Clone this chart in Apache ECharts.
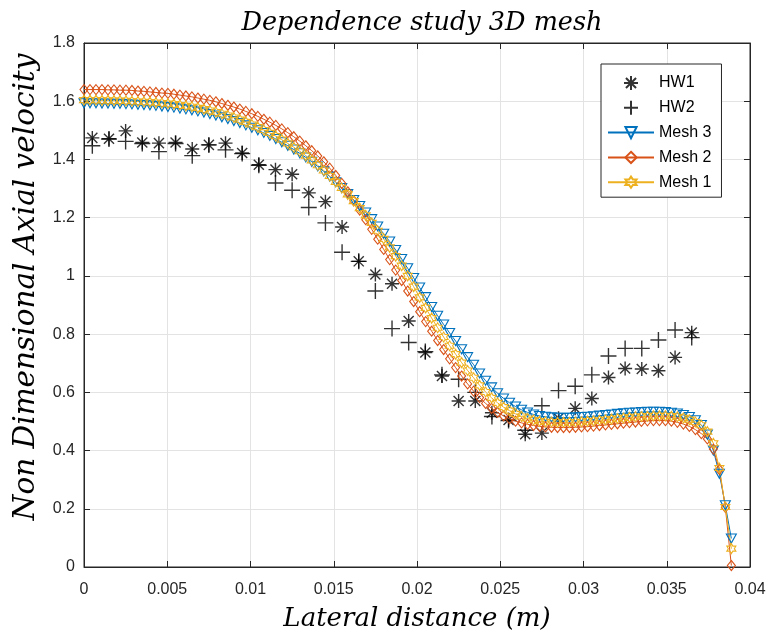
<!DOCTYPE html>
<html>
<head>
<meta charset="utf-8">
<script src="https://cdn.jsdelivr.net/npm/echarts@6/dist/echarts.min.js"></script>
<style>html,body{margin:0;padding:0;background:#fff}#c{width:770px;height:637px}</style>
</head>
<body>
<div id="c"></div>
<script>
const xMesh = [
0,0.00036,0.00072,0.00108,0.00144,0.0018,0.00216,0.00252,0.00288,0.00324,
0.0036,0.00396,0.00432,0.00468,0.00504,0.0054,0.00576,0.00612,0.00648,0.00684,
0.0072,0.00756,0.00792,0.00828,0.00864,0.009,0.00936,0.00972,0.01008,0.01044,
0.0108,0.01116,0.01152,0.01188,0.01224,0.0126,0.01296,0.01332,0.01368,0.01404,
0.0144,0.01476,0.01512,0.01548,0.01584,0.0162,0.01656,0.01692,0.01728,0.01764,
0.018,0.01836,0.01872,0.01908,0.01944,0.0198,0.02016,0.02052,0.02088,0.02124,
0.0216,0.02196,0.02232,0.02268,0.02304,0.0234,0.02376,0.02412,0.02448,0.02484,
0.0252,0.02556,0.02592,0.02628,0.02664,0.027,0.02736,0.02772,0.02808,0.02844,
0.0288,0.02916,0.02952,0.02988,0.03024,0.0306,0.03096,0.03132,0.03168,0.03204,
0.0324,0.03276,0.03312,0.03348,0.03384,0.0342,0.03456,0.03492,0.03528,0.03564,
0.036,0.03636,0.03672,0.03708,0.03744,0.0378,0.03816,0.03852,0.03888];

const mesh3 = [
1.593,1.593,1.593,1.592,1.592,1.591,1.591,1.590,1.589,1.588,
1.587,1.586,1.584,1.582,1.580,1.578,1.575,1.572,1.569,1.565,
1.561,1.556,1.551,1.545,1.539,1.532,1.525,1.517,1.509,1.500,
1.491,1.481,1.470,1.459,1.447,1.434,1.421,1.407,1.392,1.376,
1.359,1.341,1.322,1.302,1.281,1.261,1.240,1.218,1.195,1.170,
1.145,1.118,1.089,1.058,1.026,0.993,0.960,0.927,0.893,0.863,
0.833,0.804,0.776,0.748,0.721,0.695,0.665,0.640,0.617,0.597,
0.579,0.564,0.551,0.540,0.531,0.524,0.519,0.516,0.514,0.513,
0.513,0.513,0.514,0.515,0.516,0.518,0.520,0.522,0.524,0.526,
0.528,0.530,0.531,0.532,0.533,0.533,0.533,0.532,0.530,0.527,
0.522,0.515,0.504,0.488,0.455,0.400,0.320,0.212,0.098];

const mesh2 = [
1.640,1.640,1.640,1.640,1.639,1.639,1.638,1.638,1.637,1.635,
1.634,1.632,1.630,1.628,1.627,1.624,1.621,1.618,1.615,1.611,
1.607,1.603,1.598,1.592,1.586,1.580,1.573,1.565,1.557,1.548,
1.538,1.528,1.517,1.505,1.492,1.478,1.463,1.447,1.430,1.412,
1.392,1.370,1.345,1.318,1.289,1.258,1.226,1.193,1.160,1.126,
1.091,1.056,1.020,0.984,0.948,0.912,0.877,0.843,0.810,0.778,
0.747,0.715,0.685,0.656,0.629,0.604,0.582,0.562,0.545,0.531,
0.519,0.509,0.501,0.495,0.490,0.486,0.483,0.481,0.480,0.479,
0.479,0.479,0.480,0.481,0.482,0.484,0.486,0.488,0.490,0.492,
0.494,0.496,0.498,0.500,0.502,0.503,0.503,0.503,0.501,0.497,
0.491,0.483,0.472,0.458,0.440,0.405,0.335,0.205,0.005];

const mesh1 = [
1.604,1.604,1.604,1.603,1.603,1.602,1.602,1.601,1.600,1.599,
1.598,1.597,1.595,1.594,1.592,1.590,1.587,1.584,1.581,1.577,
1.573,1.568,1.563,1.557,1.551,1.544,1.537,1.529,1.520,1.511,
1.501,1.491,1.480,1.468,1.455,1.442,1.428,1.413,1.397,1.380,
1.362,1.343,1.323,1.302,1.280,1.257,1.233,1.208,1.182,1.155,
1.127,1.098,1.068,1.035,1.000,0.963,0.926,0.890,0.855,0.822,
0.790,0.760,0.731,0.702,0.675,0.650,0.624,0.601,0.581,0.564,
0.549,0.537,0.526,0.517,0.510,0.505,0.501,0.499,0.498,0.497,
0.497,0.497,0.498,0.499,0.501,0.502,0.504,0.506,0.508,0.510,
0.512,0.514,0.516,0.517,0.518,0.519,0.519,0.519,0.518,0.516,
0.512,0.506,0.498,0.487,0.465,0.425,0.340,0.206,0.063];

const xHW = [
0.0005,0.0015,0.0025,0.0035,0.0045,0.0055,0.0065,0.0075,0.0085,0.0095,
0.0105,0.0115,0.0125,0.0135,0.0145,0.0155,0.0165,0.0175,0.0185,0.0195,
0.0205,0.0215,0.0225,0.0235,0.0245,0.0255,0.0265,0.0275,0.0285,0.0295,
0.0305,0.0315,0.0325,0.0335,0.0345,0.0355,0.0365];

const hw1 = [
1.474,1.471,1.498,1.458,1.456,1.458,1.436,1.450,1.456,1.422,
1.382,1.365,1.349,1.285,1.255,1.168,1.050,1.005,0.973,0.845,
0.737,0.656,0.570,0.570,0.530,0.505,0.456,0.460,0.511,0.545,
0.579,0.651,0.682,0.680,0.674,0.720,0.805];

const hw2 = [
1.447,1.470,1.462,1.455,1.427,1.455,1.413,1.450,1.433,1.420,
1.380,1.319,1.294,1.235,1.182,1.081,1.050,0.948,0.819,0.771,
0.740,0.660,0.645,0.600,0.517,0.503,0.470,0.554,0.606,0.621,
0.660,0.725,0.751,0.751,0.780,0.814,0.788];

const xTicks = { min: 0, max: 0.04, interval: 0.005 };
const yTicks = { min: 0, max: 1.8, interval: 0.2 };

const titleText = 'Dependence study 3D mesh';
const xLabel = 'Lateral distance (m)';
const yLabel = 'Non Dimensional Axial velocity';
const names = ['HW1', 'HW2', 'Mesh 3', 'Mesh 2', 'Mesh 1'];

const zip = (xs, ys) => xs.map((x, i) => [x, ys[i]]);

const ASTER = 'path://M0,-1L0,1M-1,0L1,0M-0.72,-0.72L0.72,0.72M-0.72,0.72L0.72,-0.72';
const PLUS = 'path://M0,-1L0,1M-1,0L1,0';
const TRI_DOWN = 'path://M-1,-0.6L1,-0.6L0,1.1Z';
const DIAMOND = 'path://M0,-1.25L1,0L0,1.25L-1,0Z';
const HEXA = 'path://M0,-1L0.289,-0.5L0.866,-0.5L0.577,0L0.866,0.5L0.289,0.5L0,1L-0.289,0.5L-0.866,0.5L-0.577,0L-0.866,-0.5L-0.289,-0.5Z';

const serif = 'DejaVu Serif';
const sans = 'Liberation Sans';
const axisCol = '#262626';
const gridCol = '#e3e3e3';

const chart = echarts.init(document.getElementById('c'), null, { renderer: 'canvas' });

function meshSeries(name, ys, color, symbol, size) {
  return {
    name, type: 'line', data: zip(xMesh, ys),
    symbol, symbolSize: size, showAllSymbol: true,
    lineStyle: { color, width: 1 },
    itemStyle: { color: 'rgba(0,0,0,0)', borderColor: color, borderWidth: 1.1 },
    emphasis: { disabled: true }, animation: false
  };
}

chart.setOption({
  animation: false,
  backgroundColor: '#fff',
  title: {
    text: titleText, left: 417, top: 5, textAlign: 'center',
    textStyle: { fontFamily: serif, fontStyle: 'italic', fontWeight: 'normal', fontSize: 25.5, color: '#000' }
  },
  grid: { left: 84, right: 20, top: 43, bottom: 68.5, show: true, borderColor: axisCol, borderWidth: 1, backgroundColor: '#fff' },
  legend: {
    orient: 'vertical', left: 601, top: 64,
    backgroundColor: '#fff', borderColor: axisCol, borderWidth: 1,
    padding: [11, 10, 7, 6], itemGap: 8.8, itemWidth: 46, itemHeight: 14,
    textStyle: { fontFamily: sans, fontSize: 16, color: '#000' },
    data: names
  },
  xAxis: [{
    type: 'value', min: xTicks.min, max: xTicks.max, interval: xTicks.interval, position: 'bottom',
    axisLine: { show: true, onZero: false, lineStyle: { color: axisCol } },
    axisTick: { show: true, inside: true, length: 6, lineStyle: { color: axisCol } },
    axisLabel: { fontFamily: sans, fontSize: 16, color: axisCol, margin: 15 },
    splitLine: { show: true, lineStyle: { color: gridCol, width: 1 } },
    name: xLabel, nameLocation: 'middle', nameGap: 39,
    nameTextStyle: { fontFamily: serif, fontStyle: 'italic', fontSize: 26, color: '#000' }
  }, {
    type: 'value', min: xTicks.min, max: xTicks.max, interval: xTicks.interval, position: 'top',
    axisLine: { show: true, onZero: false, lineStyle: { color: axisCol } },
    axisTick: { show: true, inside: true, length: 6, lineStyle: { color: axisCol } },
    axisLabel: { show: false }, splitLine: { show: false }
  }],
  yAxis: [{
    type: 'value', min: yTicks.min, max: yTicks.max, interval: yTicks.interval, position: 'left',
    axisLine: { show: true, onZero: false, lineStyle: { color: axisCol } },
    axisTick: { show: true, inside: true, length: 6, lineStyle: { color: axisCol } },
    axisLabel: { fontFamily: sans, fontSize: 16, color: axisCol, margin: 9 },
    splitLine: { show: true, lineStyle: { color: gridCol, width: 1 } },
    name: yLabel, nameLocation: 'middle', nameGap: 43, nameRotate: 90,
    nameTextStyle: { fontFamily: serif, fontStyle: 'italic', fontSize: 29.5, color: '#000', padding: [0, 0, 0, 36] }
  }, {
    type: 'value', min: yTicks.min, max: yTicks.max, interval: yTicks.interval, position: 'right',
    axisLine: { show: true, onZero: false, lineStyle: { color: axisCol } },
    axisTick: { show: true, inside: true, length: 6, lineStyle: { color: axisCol } },
    axisLabel: { show: false }, splitLine: { show: false }
  }],
  series: [
    { name: names[0], type: 'scatter', data: zip(xHW, hw1), symbol: ASTER, symbolSize: 14,
      itemStyle: { color: 'rgba(0,0,0,0)', borderColor: '#000', borderWidth: 1.4 } },
    { name: names[1], type: 'scatter', data: zip(xHW, hw2), symbol: PLUS, symbolSize: 16,
      itemStyle: { color: 'rgba(0,0,0,0)', borderColor: '#000', borderWidth: 1.4 } },
    meshSeries(names[2], mesh3, '#0072BD', TRI_DOWN, [10, 9]),
    meshSeries(names[3], mesh2, '#D95319', DIAMOND, [8, 10]),
    meshSeries(names[4], mesh1, '#EDB120', HEXA, [9, 10])
  ]
});
</script>
</body>
</html>
